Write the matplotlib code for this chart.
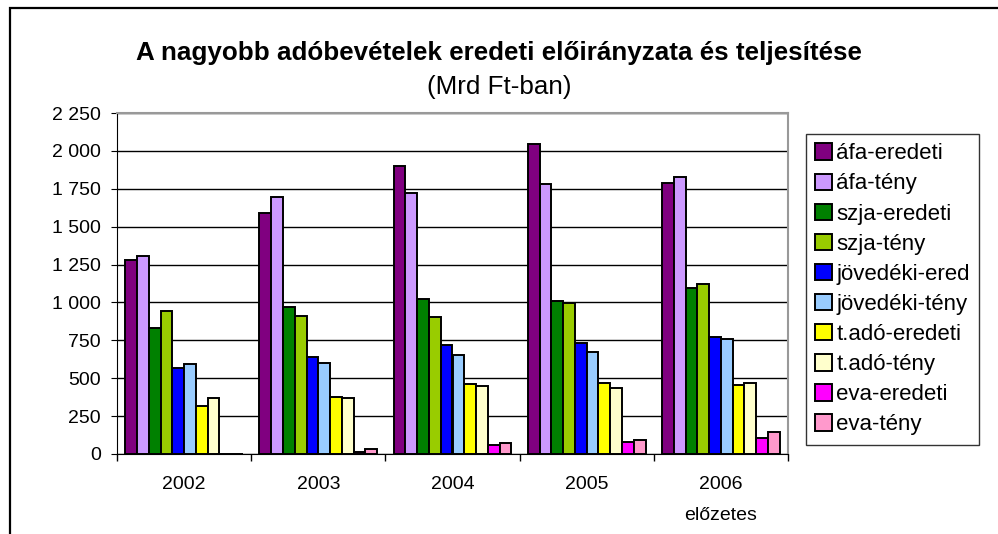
import matplotlib.pyplot as plt
import numpy as np
from matplotlib.patches import Rectangle
from matplotlib.ticker import FuncFormatter

plt.rcParams['font.family'] = ['Liberation Sans', 'DejaVu Sans']

years = ["2002", "2003", "2004", "2005", "2006\nelőzetes"]
names = ["áfa-eredeti", "áfa-tény", "szja-eredeti", "szja-tény", "jövedéki-ered",
         "jövedéki-tény", "t.adó-eredeti", "t.adó-tény", "eva-eredeti", "eva-tény"]
colors = ["#800080", "#CC99FF", "#008000", "#99CC00", "#0000FF",
          "#99CCFF", "#FFFF00", "#FFFFCC", "#FF00FF", "#FF99CC"]

afa_er = [1280, 1588, 1902, 2047, 1790]
afa_teny = [1305, 1697, 1724, 1781, 1830]
szja_er = [829, 972, 1025, 1009, 1093]
szja_teny = [941, 910, 902, 998, 1121]
jov_er = [565, 642, 719, 734, 770]
jov_teny = [594, 598, 653, 671, 761]
tado_er = [317, 374, 462, 466, 455]
tado_teny = [367, 372, 451, 433, 468]
eva_er = [0, 15, 59, 81, 108]
eva_teny = [0, 30, 75, 95, 145]

series = [afa_er, afa_teny, szja_er, szja_teny, jov_er,
          jov_teny, tado_er, tado_teny, eva_er, eva_teny]

fig = plt.figure(figsize=(9.98, 5.34), dpi=100)
ax = fig.add_axes([117/998, 1-454/534, (788-117)/998, (454-113)/534])

x = np.arange(len(years))
w = 0.0877
for i, (vals, c, n) in enumerate(zip(series, colors, names)):
    ax.bar(x + (i - 4.5)*w, vals, w, color=c, edgecolor='black',
           linewidth=1.4, label=n, zorder=3)

ax.set_xlim(-0.5, 4.5)
ax.set_ylim(0, 2250)
ax.set_yticks(range(0, 2251, 250))
ax.yaxis.set_major_formatter(FuncFormatter(lambda v, p: f"{int(v):,}".replace(",", " ")))
ax.grid(axis='y', color='black', linewidth=1, zorder=0)
ax.set_xticks(x)
ax.set_xticklabels(years, fontsize=14, linespacing=2.05, va='top', ha='center')
ax.set_xticks(np.arange(-0.5, 5, 1), minor=True)
ax.tick_params(axis='x', which='major', length=0, pad=16)
ax.tick_params(axis='x', which='minor', length=5, width=1)
ax.tick_params(axis='y', length=4.5, labelsize=14, pad=7)
for lbl in ax.get_xticklabels():
    lbl.set_multialignment('center')

ax.spines['left'].set_color('black')
ax.spines['bottom'].set_color('black')
ax.spines['top'].set_color('#999999')
ax.spines['right'].set_color('#999999')
ax.spines['top'].set_linewidth(1.5)
ax.spines['right'].set_linewidth(1.5)

leg = ax.legend(loc='upper left', bbox_to_anchor=(806/998, 1-134/534),
                bbox_transform=fig.transFigure, fontsize=16, frameon=True,
                fancybox=False, edgecolor='black', handlelength=0.75,
                handleheight=0.75, handletextpad=0.2, labelspacing=0.41,
                borderpad=0.42, borderaxespad=0)
leg.get_frame().set_linewidth(1)

fig.text(0.5, 1-60/534, "A nagyobb adóbevételek eredeti előirányzata és teljesítése",
         ha='center', va='baseline', fontsize=18.7, fontweight='bold')
fig.text(0.5, 1-94/534, "(Mrd Ft-ban)", ha='center', va='baseline', fontsize=18.7)

fig.patches.append(Rectangle((10/998, -0.1), 1.0, 1.1 - 7.5/534,
                             transform=fig.transFigure, fill=False,
                             edgecolor='black', linewidth=1.6))

fig.savefig("out.png", dpi=100)
